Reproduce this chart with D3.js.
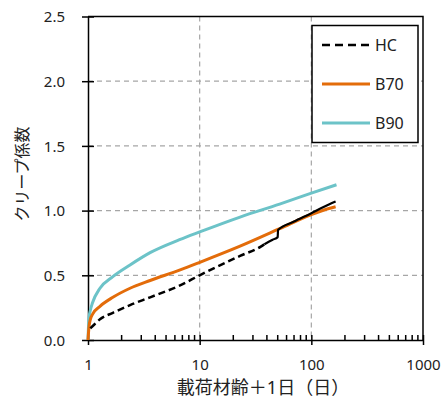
<!DOCTYPE html>
<html>
<head>
<meta charset="utf-8">
<script src="https://cdn.jsdelivr.net/npm/d3@7"></script>
<style>
  body { margin: 0; background: #fff; }
  text { font-family: "Noto Sans", "Noto Sans CJK JP", sans-serif; fill: #222; }
</style>
</head>
<body>
<div id="chart"></div>
<script>
// days (loading age + 1) and creep coefficient
var hcDays = [1.05, 1.14, 1.28, 1.67, 2.38, 3.6, 6.6, 10, 23, 35, 38, 45, 50, 50.3, 70, 100, 130, 165];
var hcVals = [0.09, 0.12, 0.16, 0.21, 0.27, 0.33, 0.42, 0.50, 0.65, 0.72, 0.74, 0.775, 0.795, 0.85, 0.915, 0.98, 1.03, 1.07];

var b70Days = [1, 1.02, 1.05, 1.1, 1.28, 1.67, 2.38, 3.6, 6.6, 10, 23, 52, 100, 130, 165];
var b70Vals = [0, 0.10, 0.16, 0.20, 0.26, 0.33, 0.40, 0.46, 0.54, 0.60, 0.725, 0.86, 0.97, 1.005, 1.03];

var b90Days = [1, 1.02, 1.05, 1.1, 1.28, 1.67, 2.38, 3.6, 6.6, 10, 23, 52, 100, 168];
var b90Vals = [0, 0.17, 0.23, 0.29, 0.40, 0.49, 0.58, 0.675, 0.775, 0.835, 0.95, 1.05, 1.135, 1.20];

var yTicks = [0, 0.5, 1.0, 1.5, 2.0, 2.5];
var xTicks = [1, 10, 100, 1000];
var legendNames = ["HC", "B70", "B90"];

var width = 443, height = 401;
var pLeft = 88, pRight = 423, pTop = 16.5, pBottom = 340;

var svg = d3.select("#chart").append("svg")
  .attr("width", width).attr("height", height);

var x = d3.scaleLog().domain([1, 1000]).range([pLeft, pRight]);
var y = d3.scaleLinear().domain([0, 2.5]).range([pBottom, pTop]);

// grid
svg.selectAll(".hgrid").data(yTicks.slice(1, -1)).enter().append("line")
  .attr("x1", pLeft).attr("x2", pRight)
  .attr("y1", function(d) { return y(d); }).attr("y2", function(d) { return y(d); })
  .attr("stroke", "#a6a6a6").attr("stroke-width", 1.2).attr("stroke-dasharray", "5,4");
svg.selectAll(".vgrid").data(xTicks.slice(1, -1)).enter().append("line")
  .attr("y1", pTop).attr("y2", pBottom)
  .attr("x1", function(d) { return x(d); }).attr("x2", function(d) { return x(d); })
  .attr("stroke", "#a6a6a6").attr("stroke-width", 1.2).attr("stroke-dasharray", "5,4");

// frame top/right
svg.append("path")
  .attr("d", "M" + pLeft + "," + pTop + "H" + pRight + "V" + pBottom)
  .attr("fill", "none").attr("stroke", "#000").attr("stroke-width", 1.5);

// y axis
var yAxis = d3.axisLeft(y).tickValues(yTicks).tickFormat(d3.format(".1f"))
  .tickSizeInner(6).tickSizeOuter(0).tickPadding(17);
var gy = svg.append("g").attr("transform", "translate(" + pLeft + ",0)").call(yAxis);
gy.select(".domain").attr("stroke", "#000").attr("stroke-width", 1.5);
gy.selectAll(".tick line").attr("x2", -6).attr("x1", 6).attr("stroke", "#000").attr("stroke-width", 1.5);
gy.selectAll(".tick text").attr("font-size", 15).attr("font-family", null).attr("dy", "0.35em");

// x axis major
var xAxis = d3.axisBottom(x).tickValues(xTicks).tickFormat(d3.format("d"))
  .tickSizeInner(5).tickSizeOuter(0).tickPadding(14);
var gx = svg.append("g").attr("transform", "translate(0," + pBottom + ")").call(xAxis);
gx.select(".domain").attr("stroke", "#000").attr("stroke-width", 1.5);
gx.selectAll(".tick line").attr("y1", -5).attr("y2", 5).attr("stroke", "#000").attr("stroke-width", 1.5);
gx.selectAll(".tick text").attr("font-size", 15).attr("font-family", null);

// x minor ticks, inside
var minor = [];
[1, 10, 100].forEach(function(dec) {
  for (var k = 2; k <= 9; k++) minor.push(dec * k);
});
svg.selectAll(".minor").data(minor).enter().append("line")
  .attr("x1", function(d) { return x(d); }).attr("x2", function(d) { return x(d); })
  .attr("y1", pBottom).attr("y2", pBottom - 5)
  .attr("stroke", "#000").attr("stroke-width", 1.5);

// curves
function pts(days, vals) {
  return days.map(function(d, i) { return [d, vals[i]]; });
}
var line = d3.line()
  .x(function(d) { return x(d[0]); })
  .y(function(d) { return y(d[1]); })
  .curve(d3.curveMonotoneX);

var hc = pts(hcDays, hcVals);
var hcDash = hc.filter(function(d) { return d[0] <= 38; });
var hcSolid = hc.filter(function(d) { return d[0] >= 38; });

svg.append("path").attr("d", line(pts(b90Days, b90Vals)))
  .attr("fill", "none").attr("stroke", "#6cc3c8").attr("stroke-width", 3);
svg.append("path").attr("d", line(pts(b70Days, b70Vals)))
  .attr("fill", "none").attr("stroke", "#e36c0a").attr("stroke-width", 3);
svg.append("path").attr("d", line(hcDash))
  .attr("fill", "none").attr("stroke", "#000").attr("stroke-width", 2.5)
  .attr("stroke-dasharray", "7,4");
svg.append("path").attr("d", line(hcSolid))
  .attr("fill", "none").attr("stroke", "#000").attr("stroke-width", 2.2);

// legend
var lg = svg.append("g");
lg.append("rect").attr("x", 312).attr("y", 25.5).attr("width", 106).attr("height", 117)
  .attr("fill", "#fff").attr("stroke", "#000").attr("stroke-width", 1.5);
var legendStyle = [
  { color: "#000", dash: "8,5", w: 2.5 },
  { color: "#e36c0a", dash: null, w: 3 },
  { color: "#6cc3c8", dash: null, w: 3 }
];
legendNames.forEach(function(name, i) {
  var cy = 45 + i * 39;
  lg.append("line").attr("x1", 322).attr("x2", 370).attr("y1", cy).attr("y2", cy)
    .attr("stroke", legendStyle[i].color).attr("stroke-width", legendStyle[i].w)
    .attr("stroke-dasharray", legendStyle[i].dash);
  lg.append("text").attr("x", 375).attr("y", cy + 6).attr("font-size", 16).text(name);
});

// axis titles
svg.append("text").attr("x", 263).attr("y", 394).attr("text-anchor", "middle")
  .attr("font-size", 18).text("載荷材齢＋1日（日）");
svg.append("text").attr("transform", "translate(28,174) rotate(-90)")
  .attr("text-anchor", "middle").attr("font-size", 16).text("クリープ係数");
</script>
</body>
</html>
